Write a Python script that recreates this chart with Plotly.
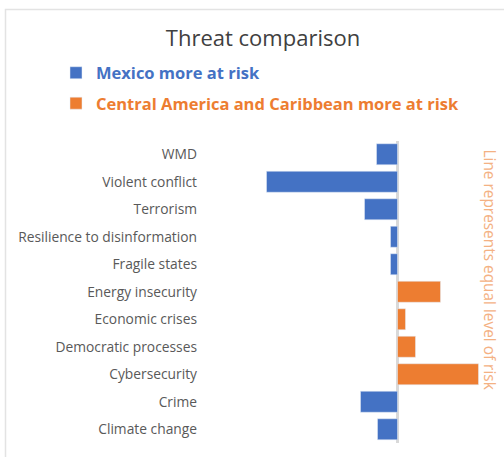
import plotly.graph_objects as go

# categories, top to bottom
threats = ["WMD", "Violent conflict", "Terrorism", "Resilience to disinformation",
           "Fragile states", "Energy insecurity", "Economic crises",
           "Democratic processes", "Cybersecurity", "Crime", "Climate change"]

# how much more at risk (arbitrary units)
mexico_more = [0.21, 1.31, 0.33, 0.07, 0.07, None, None, None, None, 0.37, 0.20]
cam_more = [None, None, None, None, None, 0.43, 0.08, 0.18, 0.81, None, None]

blue = "#4472C4"
orange = "#ED7D31"

fig = go.Figure()

fig.add_trace(go.Bar(
    y=threats,
    x=[-v if v is not None else None for v in mexico_more],
    orientation="h",
    marker=dict(color=blue),
    name="<b><span style='color:%s'>Mexico more at risk</span></b>" % blue,
    legendgroup="mex",
))
fig.add_trace(go.Bar(
    y=threats,
    x=cam_more,
    orientation="h",
    marker=dict(color=orange),
    name="<b><span style='color:%s'>Central America and Caribbean more at risk</span></b>" % orange,
    legendgroup="cam",
))

fig.update_layout(
    width=504,
    height=457,
    margin=dict(l=0, r=0, t=0, b=0),
    paper_bgcolor="white",
    plot_bgcolor="white",
    barmode="relative",
    bargap=0.236,
    font=dict(family="Open Sans", color="#595959", size=13.8),
    title=dict(text="Threat comparison", x=263 / 504, xanchor="center",
               y=1 - 38 / 457, yanchor="middle",
               font=dict(size=22, color="#404040")),
    legend=dict(x=56 / 504, xanchor="left", y=1 - 55.5 / 457, yanchor="top",
                font=dict(size=16.5), tracegroupgap=6, bgcolor="rgba(0,0,0,0)"),
    showlegend=True,
)

fig.update_xaxes(domain=[200 / 504, 482 / 504], range=[-1.975, 0.845],
                 showgrid=False, showticklabels=False, zeroline=True,
                 zerolinecolor="#D9D9D9", zerolinewidth=2.5, fixedrange=True)
fig.update_yaxes(domain=[1 - 443 / 457, 1 - 140.5 / 457], autorange="reversed",
                 showgrid=False, ticks="", ticklabelstandoff=2, fixedrange=True)

# side note on the zero line
fig.add_annotation(text="Line represents equal level of risk", textangle=90,
                   xref="paper", yref="paper", x=489 / 504, y=1 - 269.5 / 457,
                   xanchor="center", yanchor="middle",
                   showarrow=False, font=dict(size=15.4, color="#F4B183"))

# chart frame
fig.add_shape(type="rect", xref="paper", yref="paper",
              x0=5.5 / 504, y0=-0.05, x1=1.05, y1=1 - 9.5 / 457,
              line=dict(color="#E3E3E3", width=1.5))

fig.write_html("out.html", config={"displayModeBar": False},
               post_script="document.body.style.margin='0';")
